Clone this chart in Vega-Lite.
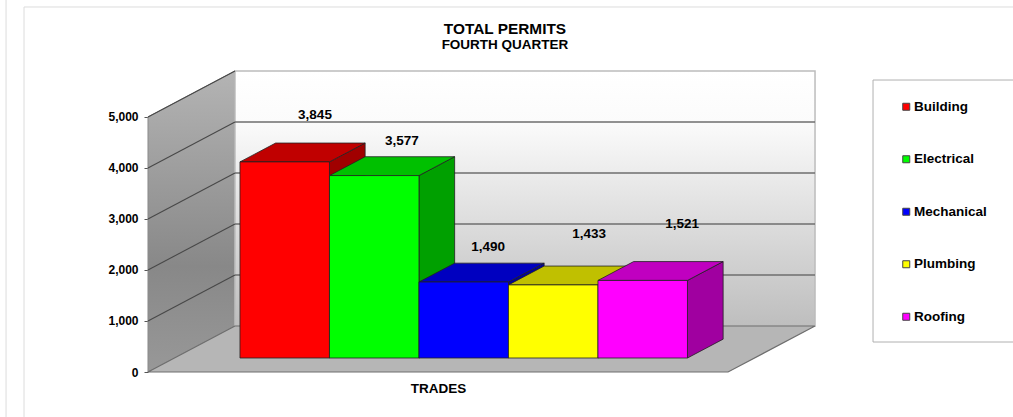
{
"$schema":"https://vega.github.io/schema/vega-lite/v6.json",
"width":1013,"height":417,"padding":0,"autosize":{"type":"none"},"background":"white",
"config":{"view":{"stroke":null},"font":"Liberation Sans"},
"title":{"text":"TOTAL PERMITS","subtitle":"FOURTH QUARTER","anchor":"middle","frame":"group","dx":-1.5,"offset":-52,"font":"Liberation Sans","fontSize":15.4,"fontWeight":"bold","color":"#000","subtitleFont":"Liberation Sans","subtitleFontSize":13.5,"subtitleFontWeight":"bold","subtitleColor":"#000","subtitlePadding":1},
"datasets":{"permits":[{"trade":"Building","permits":3845},{"trade":"Electrical","permits":3577},{"trade":"Mechanical","permits":1490},{"trade":"Plumbing","permits":1433},{"trade":"Roofing","permits":1521}]},
"encoding":{
"x":{"field":"x","type":"quantitative","stack":null,"scale":{"domain":[-2.3855,8.933],"nice":false,"zero":false},"axis":{"title":"TRADES","domain":false,"ticks":false,"labels":false,"grid":false,"titleX":438,"titleY":-29,"titleAlign":"center","titleBaseline":"middle","titleFont":"Liberation Sans","titleFontSize":13.5,"titleFontWeight":"bold","titleColor":"#000"}},
"y":{"field":"y","type":"quantitative","stack":null,"scale":{"domain":[-882.35,7294.1],"nice":false,"zero":false},"axis":{"title":null,"values":[0,1000,2000,3000,4000,5000],"format":",d","offset":-148,"domain":false,"grid":false,"tickSize":4,"tickColor":"#555","labelPadding":6,"labelFont":"Liberation Sans","labelFontSize":12,"labelFontWeight":"bold","labelColor":"#000"}}
},
"layer":[
{"data":{"values":[{"px":-2.318,"py":7294,"py2":-882},{"px":-2.117,"py":7157,"py2":-882}]},"transform":[{"calculate":"datum.px","as":"x"},{"calculate":"datum.py","as":"y"},{"calculate":"datum.py2","as":"y2"}],"mark":{"type":"rule","stroke":"#dcdcdc","strokeWidth":1},"encoding":{"y2":{"field":"y2"}}},
{"data":{"values":[{"note":"frame"}]},"transform":[{"calculate":"-2.117","as":"x"},{"calculate":"8.933","as":"x2"},{"calculate":"7157","as":"y"}],"mark":{"type":"rule","stroke":"#dcdcdc","strokeWidth":1},"encoding":{"x2":{"field":"x2"}}},
{"data":{"values":[{"d":0},{"d":1}]},"transform":[{"calculate":"-0.732+datum.d*0.972","as":"x"},{"calculate":"5000+datum.d*902","as":"y"},{"calculate":"datum.d*902","as":"y2"}],
"mark":{"type":"area","stroke":"#8a8a8a","strokeWidth":1,"fill":{"gradient":"linear","x1":0,"y1":0,"x2":0,"y2":1,"stops":[{"offset":0,"color":"#b4b4b4"},{"offset":0.65,"color":"#888888"},{"offset":1,"color":"#989898"}]}},"encoding":{"y2":{"field":"y2"}}},
{"data":{"values":[{"note":"back wall"}]},"transform":[{"calculate":"0.24","as":"x"},{"calculate":"6.721","as":"x2"},{"calculate":"5902","as":"y"},{"calculate":"902","as":"y2"}],
"mark":{"type":"rect","stroke":"#bcbcbc","strokeWidth":1.5,"fill":{"gradient":"linear","x1":0,"y1":0,"x2":0,"y2":1,"stops":[{"offset":0,"color":"#ffffff"},{"offset":0.2,"color":"#fbfbfb"},{"offset":1,"color":"#bebebe"}]}},"encoding":{"x2":{"field":"x2"},"y2":{"field":"y2"}}},
{"data":{"values":[{"d":0},{"d":1}]},"transform":[{"calculate":"-0.732+datum.d*0.972","as":"x"},{"calculate":"5.749+datum.d*0.972","as":"x2"},{"calculate":"datum.d*902","as":"y"}],
"mark":{"type":"area","orient":"horizontal","fill":"#b6b6b6","stroke":"#6e6e6e","strokeWidth":1.2},"encoding":{"x2":{"field":"x2"}}},
{"data":{"values":[{"v":1000},{"v":2000},{"v":3000},{"v":4000}]},"transform":[{"calculate":"0.24","as":"x"},{"calculate":"6.721","as":"x2"},{"calculate":"datum.v+902","as":"y"}],"mark":{"type":"rule","stroke":"#6e6e6e","strokeWidth":1.4},"encoding":{"x2":{"field":"x2"}}},
{"data":{"values":[{"v":1000},{"v":2000},{"v":3000},{"v":4000},{"v":5000}]},"transform":[{"calculate":"-0.732","as":"x"},{"calculate":"0.24","as":"x2"},{"calculate":"datum.v","as":"y"},{"calculate":"datum.v+902","as":"y2"}],"mark":{"type":"rule","stroke":"#484848","strokeWidth":1.1},"encoding":{"x2":{"field":"x2"},"y2":{"field":"y2"}}},
{"data":{"name":"permits"},
"transform":[{"calculate":"indexof(['Building','Electrical','Mechanical','Plumbing','Roofing'],datum.trade)","as":"i"},{"calculate":"[0.3043,0.7143]","as":"d"},{"flatten":["d"]},{"calculate":"datum.i+1+datum.d*0.972","as":"x"},{"calculate":"datum.permits+datum.d*902","as":"y"},{"calculate":"datum.d*902","as":"y2"}],
"mark":{"type":"area","stroke":"#222","strokeWidth":0.8},"encoding":{"y2":{"field":"y2"},"color":{"field":"trade","type":"nominal","legend":null,"scale":{"domain":["Building","Electrical","Mechanical","Plumbing","Roofing"],"range":["#a00000","#00a000","#0000a0","#a0a000","#a000a0"]}}}},
{"data":{"name":"permits"},
"transform":[{"calculate":"indexof(['Building','Electrical','Mechanical','Plumbing','Roofing'],datum.trade)","as":"i"},{"calculate":"[0.3043,0.7143]","as":"d"},{"flatten":["d"]},{"calculate":"datum.i+datum.d*0.972","as":"x"},{"calculate":"datum.x+1","as":"x2"},{"calculate":"datum.permits+datum.d*902","as":"y"}],
"mark":{"type":"area","orient":"horizontal","stroke":"#222","strokeWidth":0.8},"encoding":{"x2":{"field":"x2"},"color":{"field":"trade","type":"nominal","legend":null,"scale":{"domain":["Building","Electrical","Mechanical","Plumbing","Roofing"],"range":["#c00000","#00c000","#0000c0","#c0c000","#c000c0"]}}}},
{"data":{"name":"permits"},
"transform":[{"calculate":"indexof(['Building','Electrical','Mechanical','Plumbing','Roofing'],datum.trade)","as":"i"},{"calculate":"datum.i+0.2958","as":"x"},{"calculate":"datum.x+1","as":"x2"},{"calculate":"datum.permits+274.5","as":"y"},{"calculate":"274.5","as":"y2"}],
"mark":{"type":"rect","stroke":"#222","strokeWidth":0.8},"encoding":{"x2":{"field":"x2"},"y2":{"field":"y2"},"color":{"field":"trade","type":"nominal","scale":{"domain":["Building","Electrical","Mechanical","Plumbing","Roofing"],"range":["#ff0000","#00ff00","#0000ff","#ffff00","#ff00ff"]},"legend":{"title":null,"orient":"none","legendX":899.5,"legendY":100,"symbolType":"square","symbolSize":49,"symbolStrokeColor":"#444","symbolStrokeWidth":1,"symbolOpacity":1,"labelFont":"Liberation Sans","labelFontSize":13.5,"labelFontWeight":"bold","labelColor":"#000","labelOffset":1,"rowPadding":37.5,"padding":0}}}},
{"data":{"name":"permits"},
"transform":[{"calculate":"indexof(['Building','Electrical','Mechanical','Plumbing','Roofing'],datum.trade)","as":"i"},{"calculate":"datum.i+0.5+[0.634,0.606,0.568,0.696,0.735][datum.i]","as":"x"},{"calculate":"datum.permits+[1194,952,961,1273,1381][datum.i]","as":"y"}],
"mark":{"type":"text","font":"Liberation Sans","fontSize":13.5,"fontWeight":"bold","color":"#000","baseline":"middle","align":"center"},"encoding":{"text":{"field":"permits","type":"quantitative","format":","}}},
{"data":{"values":[{"note":"legend panel"}]},"transform":[{"calculate":"7.369","as":"x"},{"calculate":"9.2","as":"x2"},{"calculate":"5725","as":"y"},{"calculate":"588","as":"y2"}],"mark":{"type":"rect","fill":"white","stroke":"#b0b0b0","strokeWidth":1},"encoding":{"x2":{"field":"x2"},"y2":{"field":"y2"}}}
],
"resolve":{"scale":{"color":"independent"}}
}
